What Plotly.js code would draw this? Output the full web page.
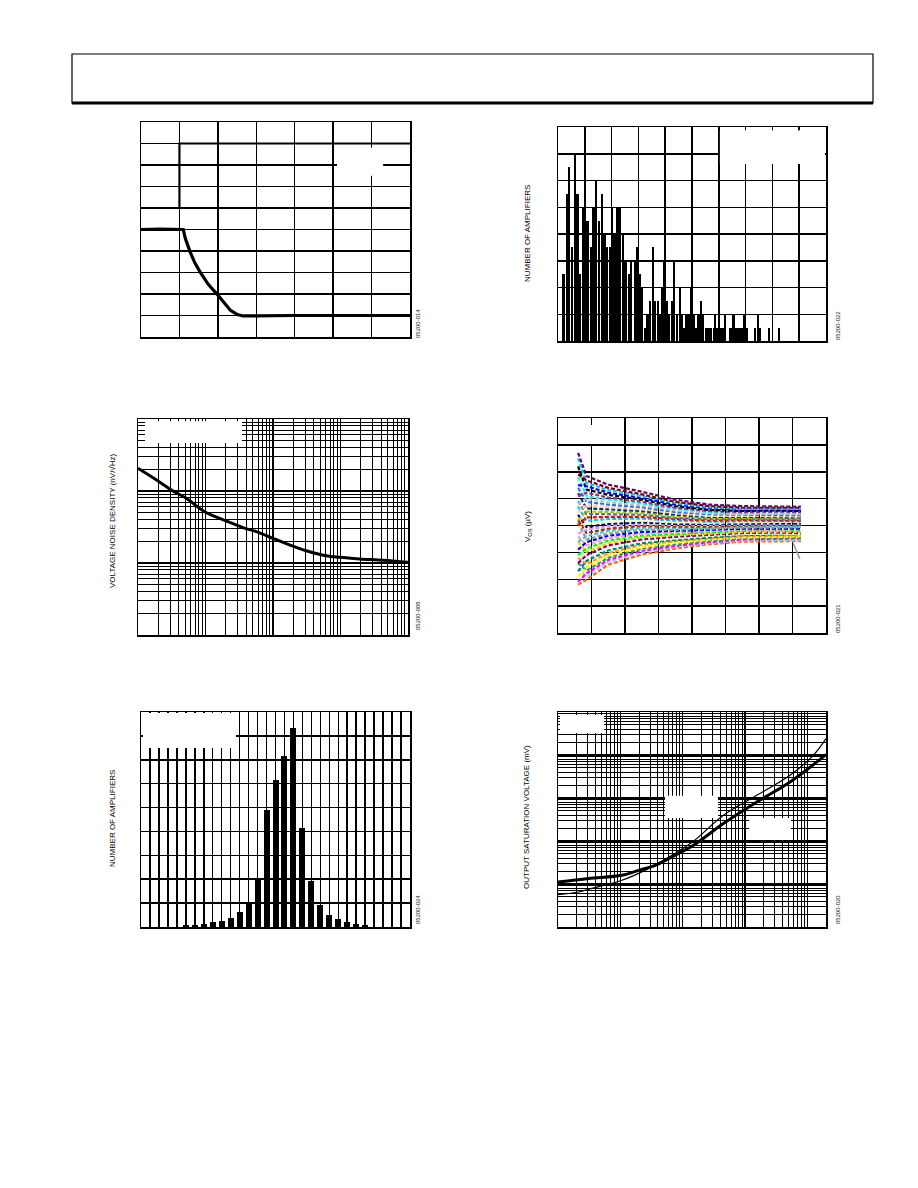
<!DOCTYPE html>
<html><head><meta charset="utf-8">
<script src="https://cdn.plot.ly/plotly-3.0.1.min.js"></script>
<style>html,body{margin:0;padding:0;background:#fff}#c{width:918px;height:1188px}</style>
</head><body><div id="c"></div>
<script>
// ---------- Panel 1: step response (divisions) ----------
const stepX = [0, 1, 1, 7];
const stepY = [6, 6, 9, 9];
const respX = [0, 0.5, 1.1, 1.15, 1.28, 1.4, 1.54, 1.75, 2.0, 2.15, 2.32, 2.5, 2.66, 4, 5.5, 7];
const respY = [5, 5.02, 5, 4.6, 3.95, 3.45, 3.02, 2.45, 1.95, 1.6, 1.25, 1.05, 0.98, 1.0, 1.0, 1.0];

// ---------- Panel 2: histogram (fine bins) ----------
const tcBin = [0.205,0.336,0.42,0.51,0.63,0.73,0.82,0.94,1.03,1.12,1.23,1.32,1.43,1.52,1.64,1.73,1.83,1.93,2.02,2.11,2.22,2.31,2.42,2.52,2.64,2.72,2.86,
  2.95,3.04,3.12,3.25,3.34,3.42,3.54,3.63,3.72,3.80,3.88,3.97,4.05,4.13,4.25,4.34,4.43,4.55,4.63,4.70,4.78,4.87,4.97,5.06,5.15,5.24,5.34,5.41,5.53,5.62,5.72,
  5.81,5.87,5.95,6.02,6.09,6.16,6.24,6.43,6.49,6.55,6.63,6.73,6.79,6.85,6.94,7.03,7.34,7.46,7.53,7.86,8.24];
const tcCount = [5,11,13,7,14,11,5,10,9,9,7,10,12,9,11,8,7,7,10,8,10,10,8,6,5,6,6,
  7,5,4,1,2,3,7,3,3,2,4,6,3,2,3,6,2,4,2,1,2,2,4,2,1,2,3,2,1,1,1,
  1,2,1,3,1,1,2,1,1,2,1,1,1,1,2,1,1,2,1,1,1];

// ---------- Panel 3: voltage noise density ----------
const noiseFreq = [1, 1.98, 3.12, 5.2, 9.7, 20.4, 36, 56.6, 100, 177, 312, 617, 973, 1923, 4266, 10000];
const noiseDensity = [206.5, 137.7, 103.3, 79.1, 51.6, 38.3, 31.0, 27.2, 22.0, 17.8, 14.8, 12.6, 12.0, 11.4, 10.9, 10.2];

// ---------- Panel 4: VOS traces (µV) ----------
const vosX = [0.6, 0.85, 1.5, 2.5, 3.5, 4.5, 5.5, 6.5, 7.25];
const vosUnits = [
  [-110,-101,-73,-54,-43,-35,-30,-29,-29],
  [-80,-95,-68,-50,-40,-33,-28,-27,-27],
  [-105,-89,-64,-47,-38,-31,-26,-25,-24],
  [-70,-84,-60,-43,-35,-28,-24,-23,-23],
  [-95,-78,-55,-40,-32,-26,-22,-21,-20],
  [-60,-72,-51,-36,-29,-24,-20,-19,-19],
  [-85,-66,-46,-33,-27,-22,-18,-17,-16],
  [-40,-60,-42,-29,-24,-19,-16,-15,-16],
  [-70,-55,-37,-26,-21,-17,-14,-13,-14],
  [-30,-49,-33,-22,-18,-15,-12,-11,-12],
  [-55,-43,-28,-19,-16,-13,-10,-9,-10],
  [-20,-37,-24,-15,-13,-11,-8,-8,-7],
  [-45,-31,-19,-12,-10,-8,-6,-6,-6],
  [5,-26,-15,-8,-8,-6,-4,-4,-3],
  [-30,-20,-10,-5,-5,-4,-2,-2,-2],
  [10,-14,-6,-1,-2,-2,0,0,1],
  [-15,-8,-1,2,1,1,2,2,2],
  [20,-3,3,6,3,3,4,4,4],
  [-5,3,7,9,6,5,6,6,7],
  [35,9,12,13,9,7,8,8,8],
  [0,15,16,16,12,9,10,10,9],
  [45,21,21,20,14,12,12,12,11],
  [10,26,25,23,17,14,14,14,13],
  [60,32,30,27,20,16,16,16,15],
  [25,38,34,30,23,18,18,18,17],
  [70,44,39,34,25,21,20,20,19],
  [40,50,43,37,28,23,21,22,21],
  [90,55,48,41,31,25,23,24,23],
  [55,61,52,44,33,27,25,26,25],
  [110,67,57,48,36,29,27,28,27],
  [75,73,61,51,39,32,29,30,29],
  [125,79,66,55,42,34,31,31,31],
  [95,84,70,58,44,36,33,33,33],
  [135,92,76,63,48,39,36,36,35]
];
const leaderX = [7.02, 7.22];
const leaderY = [-33, -62];

// ---------- Panel 5: histogram ----------
const vosBin = [-100,-90,-80,-70,-60,-50,-40,-30,-20,-10,0,10,20,30,40,50,60,70,80,90,100];
const vosCount = [7,7,11,21,25,36,61,95,200,488,614,714,831,413,191,91,49,32,21,11,7];

// ---------- Panel 6: output saturation voltage ----------
const satCurrentA = [1, 3.09, 10.6, 19.6, 36.3, 67.1, 149, 452, 1549, 5297, 20000];
const satVoltA = [1.11, 1.34, 1.59, 2.08, 2.72, 4.25, 7.94, 25.4, 80.7, 235.5, 1021];
const satCurrentB = [1, 2.14, 3.09, 10.6, 28.3, 67.1, 149, 452, 1549, 5297, 12500, 20000];
const satVoltB = [0.566, 0.652, 0.753, 1.22, 2.28, 4.65, 9.84, 39.6, 115.6, 337.3, 984, 2404];

// ---------- text ----------
const yTitles = ['NUMBER OF AMPLIFIERS', 'VOLTAGE NOISE DENSITY (nV/√Hz)', 'V<sub>OS</sub> (µV)', 'NUMBER OF AMPLIFIERS', 'OUTPUT SATURATION VOLTAGE (mV)'];
const figIds = ['05200-014', '05200-022', '05200-008', '05200-021', '05200-024', '05200-020'];

// ---------- layout helpers ----------
const W = 918, H = 1188;
const boxes = [[141,122,410,337],[558,127,826,341],[138,419,408,635],[558,418,826,633],[141,712,410,927],[558,712,826,927]];
const px = x => x / W, py = y => 1 - y / H;
const base = {showgrid:true, gridcolor:'#000', gridwidth:1.5, showline:true, mirror:true, linecolor:'#000', linewidth:1.5,
  showticklabels:false, ticks:'', zeroline:false, fixedrange:true};
function lin(range, dtick){ return Object.assign({}, base, {range, dtick, tick0: range[0]}); }
function lg(range){ return Object.assign({}, base, {type:'log', range, dtick:1, gridwidth:1.3,
  minor:{dtick:'D1', showgrid:true, gridcolor:'#000', gridwidth:1, ticks:''}}); }

const axesX = [lin([0,7],1), lin([0,10],1), lg([0,4]), lin([0,8],1), lin([-150,150],10), lg([0,4.301])];
const axesY = [lin([0,10],1), lin([0,16],2), lg([0,3]), lin([-200,200],50), lin([0,900],100), lg([-1,4])];

const layout = {width:W, height:H, margin:{l:0,r:0,t:0,b:0}, showlegend:false,
  paper_bgcolor:'#fff', plot_bgcolor:'#fff', font:{family:'Liberation Sans, Arial, sans-serif', color:'#000'},
  bargap:0, shapes:[], annotations:[]};
boxes.forEach((b,i)=>{
  const s = i===0 ? '' : String(i+1);
  layout['xaxis'+s] = Object.assign(axesX[i], {domain:[px(b[0]), px(b[2])], anchor:'y'+s});
  layout['yaxis'+s] = Object.assign(axesY[i], {domain:[py(b[3]), py(b[1])], anchor:'x'+s});
});

// white (erased legend) boxes, given as axis-domain fractions, converted to data values
const whiteBoxes = [
  [1, 5.1/7, 6.3/7, 7.5/10, 8.8/10],
  [2, 0.604, 0.996, 0.827, 0.985],
  [3, 0.026, 0.385, 0.889, 0.99],
  [4, 0.037, 0.22, 0.879, 0.967],
  [5, 0.007, 0.353, 0.832, 0.995],
  [6, 0.0075, 0.172, 0.902, 0.986],
  [6, 0.399, 0.597, 0.507, 0.61],
  [6, 0.713, 0.869, 0.405, 0.507]
];
function f2d(axis, f){
  const r = axis.range, v = r[0] + f * (r[1] - r[0]);
  return axis.type === 'log' ? Math.pow(10, v) : v;
}
whiteBoxes.forEach(w=>{
  const i = w[0]-1, s = i===0 ? '' : String(i+1);
  const xa = layout['xaxis'+s], ya = layout['yaxis'+s];
  layout.shapes.push({type:'rect', layer:'between', xref:'x'+s, yref:'y'+s,
    x0:f2d(xa,w[1]), x1:f2d(xa,w[2]), y0:f2d(ya,w[3]), y1:f2d(ya,w[4]), fillcolor:'#fff', line:{width:0}});
});

// header box
layout.shapes.push({type:'rect', xref:'paper', yref:'paper', x0:px(72), x1:px(873), y0:py(103), y1:py(54), line:{color:'#000', width:1.2}});
layout.shapes.push({type:'line', xref:'paper', yref:'paper', x0:px(72), x1:px(873), y0:py(103), y1:py(103), line:{color:'#000', width:3}});

// y axis titles
const titlePos = [[527,234],[112,521],[528,527],[112,819],[526,817]];
yTitles.forEach((t,i)=>{
  layout.annotations.push({text:t, xref:'paper', yref:'paper', x:px(titlePos[i][0]), y:py(titlePos[i][1]),
    textangle:-90, showarrow:false, font:{size:8, color:'#000'}, xanchor:'center', yanchor:'middle'});
});
// figure ids
const idPos = [[418,324],[838,326],[418,616],[838,619],[418,910],[838,910]];
figIds.forEach((t,i)=>{
  layout.annotations.push({text:t, xref:'paper', yref:'paper', x:px(idPos[i][0]), y:py(idPos[i][1]),
    textangle:-90, showarrow:false, font:{size:6, color:'#222'}, xanchor:'center', yanchor:'middle'});
});

// ---------- traces ----------
const data = [];
data.push({x:stepX, y:stepY, xaxis:'x', yaxis:'y', mode:'lines', line:{color:'#000', width:2.2}});
data.push({x:respX, y:respY, xaxis:'x', yaxis:'y', mode:'lines', line:{color:'#000', width:3.2}});

data.push({type:'bar', x:tcBin, y:tcCount, xaxis:'x2', yaxis:'y2', width:0.085, marker:{color:'#000', line:{width:0}}});

data.push({x:noiseFreq, y:noiseDensity, xaxis:'x3', yaxis:'y3', mode:'lines', line:{color:'#000', width:3, shape:'spline'}});

const palette = ['#FF6600','#99CCFF','#FF00FF','#339966','#FFFF00','#FF9900','#008080','#CCFFCC','#800080','#FFCC00',
  '#00FF00','#FF99CC','#0000FF','#969696','#33CCCC','#993300','#CC99FF','#000080','#FFFF99','#00CCFF',
  '#FF0000','#666699','#99CC00','#003366','#FFCC99','#3366FF','#C0C0C0','#00FFFF','#993366','#000000',
  '#0000FF','#00CCFF','#800000','#660066'];
vosUnits.forEach((ys,i)=>{
  data.push({x:vosX, y:ys, xaxis:'x4', yaxis:'y4', mode:'lines',
    line:{color:palette[i % palette.length], width:2.2, dash:'4px,2px'}});
});
data.push({x:leaderX, y:leaderY, xaxis:'x4', yaxis:'y4', mode:'lines', line:{color:'#999', width:1.5}});

data.push({type:'bar', x:vosBin, y:vosCount, xaxis:'x5', yaxis:'y5', width:6.7, marker:{color:'#000', line:{width:0}}});

data.push({x:satCurrentB, y:satVoltB, xaxis:'x6', yaxis:'y6', mode:'lines', line:{color:'#000', width:1.2, shape:'spline'}});
data.push({x:satCurrentA, y:satVoltA, xaxis:'x6', yaxis:'y6', mode:'lines', line:{color:'#000', width:3, shape:'spline'}});

Plotly.newPlot('c', data, layout, {staticPlot:true, displayModeBar:false});
</script></body></html>
